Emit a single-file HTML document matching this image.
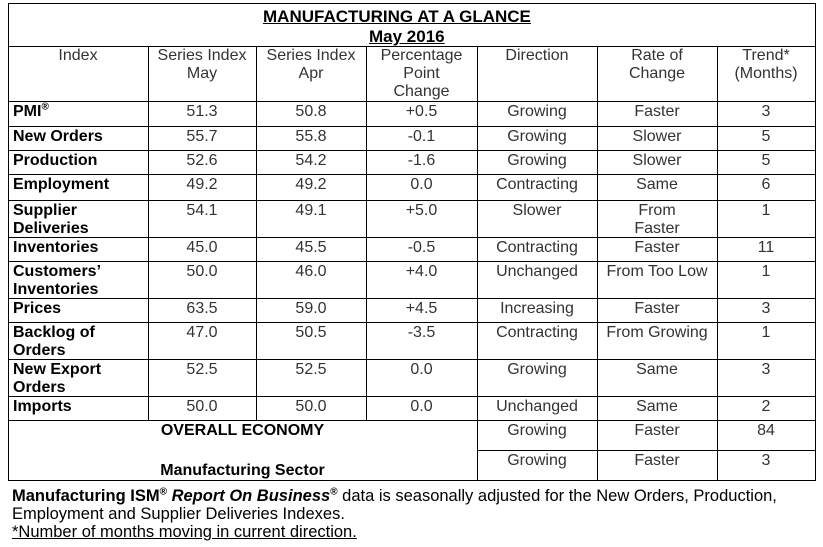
<!DOCTYPE html>
<html><head><meta charset="utf-8"><style>
body{margin:0;width:823px;height:547px;background:#fff;position:relative;overflow:hidden;font-family:"Liberation Sans",Arial,sans-serif;}
.l{position:absolute;background:#000;}
.c{position:absolute;font-size:16px;line-height:18px;color:#333;text-align:center;white-space:nowrap;}
.n{position:absolute;font-size:16px;line-height:18px;font-weight:bold;color:#000;left:13px;white-space:nowrap;}
.t{position:absolute;font-size:17px;font-weight:bold;text-decoration:underline;color:#000;line-height:18px;white-space:nowrap;}
.f{position:absolute;left:12px;font-size:16.5px;line-height:18px;color:#000;white-space:nowrap;}
sup{font-size:10px;line-height:0;}
</style></head><body>
<div id="tbl"></div>
<div class="t" style="left:263px;top:8px">MANUFACTURING AT A GLANCE </div>
<div class="t" style="left:369px;top:28px">May 2016 </div>
<div class="f" style="top:487px"><b>Manufacturing ISM<sup>®</sup> <i>Report On Business</i><sup>®</sup></b> data is seasonally adjusted for the New Orders, Production,</div>
<div class="f" style="top:505px">Employment and Supplier Deliveries Indexes.</div>
<div class="f" style="top:523px;text-decoration:underline">*Number of months moving in current direction. </div>
<script>
const cols=[8,148,256,366,477,597,717,815];
const headers=["Index","Series Index\nMay","Series Index\nApr","Percentage\nPoint\nChange","Direction","Rate of\nChange","Trend*\n(Months)"];
const names=["PMI®","New Orders","Production","Employment","Supplier\nDeliveries","Inventories","Customers’\nInventories","Prices","Backlog of\nOrders","New Export\nOrders","Imports"];
const mayVals=["51.3","55.7","52.6","49.2","54.1","45.0","50.0","63.5","47.0","52.5","50.0"];
const aprVals=["50.8","55.8","54.2","49.2","49.1","45.5","46.0","59.0","50.5","52.5","50.0"];
const changes=["+0.5","-0.1","-1.6","0.0","+5.0","-0.5","+4.0","+4.5","-3.5","0.0","0.0"];
const directions=["Growing","Growing","Growing","Contracting","Slower","Contracting","Unchanged","Increasing","Contracting","Growing","Unchanged"];
const rates=["Faster","Slower","Slower","Same","From\nFaster","Faster","From Too Low","Faster","From Growing","Same","Same"];
const trends=["3","5","5","6","1","11","1","3","1","3","2"];
const rowY=[101,126,150,174,200,237,261,298,322,359,396,420];
const summary=[["Growing","Faster","84"],["Growing","Faster","3"]];
const body=document.body;
function line(x,y,w,h,name){const d=document.createElement('div');d.className='l';


d.style.cssText=`left:${x}px;top:${y}px;width:${w}px;height:${h}px`;body.appendChild(d);}
function txt(cls,x,w,y,s,name){const d=document.createElement('div');d.className=cls;


d.style.top=y+'px';if(cls==='c'){d.style.left=x+'px';d.style.width=w+'px';}
d.innerHTML=s.replace('®','<sup>®</sup>').replace(/\n/g,'<br>');body.appendChild(d);}
line(8,3,808,1,'top-border');line(8,480,808,1,'bottom-border');
line(8,3,1,478,'left-border');line(815,3,1,478,'right-border');
line(8,46,808,1,'title-separator');
for(const y of rowY){line(8,y,808,1,'row-line');}
line(477,450,338,1,'summary-line');
for(let i=1;i<cols.length-1;i++){const top=46;const bot=i<4?420:480;line(cols[i],top,1,bot-top,'column-line');}
headers.forEach((h,i)=>txt('c',cols[i],cols[i+1]-cols[i],47,h,'header-'+i));
const data=[null,mayVals,aprVals,changes,directions,rates,trends];
names.forEach((n,r)=>{const y=rowY[r]+2;
txt('n',0,0,y,n,'index-name');
for(let c=1;c<7;c++){txt('c',cols[c],cols[c+1]-cols[c],y,data[c][r],'cell');}
});
txt('c',8,469,422,'<b style="color:#000">OVERALL ECONOMY</b>','overall-economy-label');
txt('c',8,469,462,'<b style="color:#000">Manufacturing Sector</b>','manufacturing-sector-label');
summary.forEach((s,r)=>{const y=r?452:422;for(let c=0;c<3;c++){txt('c',cols[c+4],cols[c+5]-cols[c+4],y,s[c],'summary-cell');}});
</script>
</body></html>
